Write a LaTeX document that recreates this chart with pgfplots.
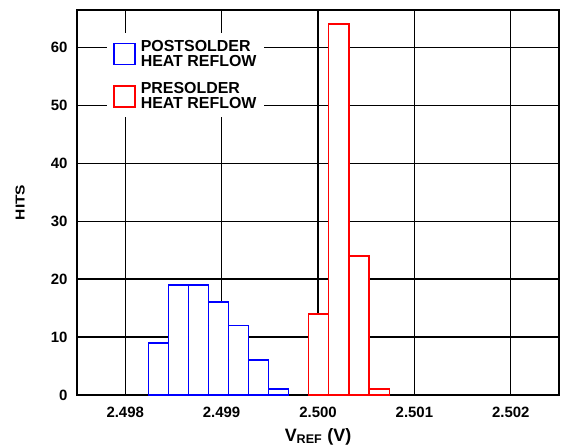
\documentclass[border=0pt]{standalone}
\usepackage{fontspec}
\setmainfont{Liberation Sans}
\usepackage{graphicx}
\usepackage{pgfplots}
\pgfplotsset{compat=1.18}
\begin{document}
\begin{tikzpicture}
\path[use as bounding box] (-77bp,-53bp) rectangle (503bp,395bp);
\begin{axis}[
  at={(0,0)}, anchor=south west,
  scale only axis, width=482bp, height=385bp,
  xmin=2.4975, xmax=2.5025, ymin=0, ymax=66.4,
  xtick={2.498,2.499,2.500,2.501,2.502},
  xticklabels={2.498,2.499,2.500,2.501,2.502},
  ytick={0,10,20,30,40,50,60},
  grid=major, major grid style={black, line width=1.1bp},
  major tick length=0pt,
  axis line style={black, line width=1.5bp},
  tick label style={font=\fontsize{15}{18}\selectfont\bfseries},
  /pgf/number format/assume math mode=true,
  yticklabel style={xshift=-6bp},
  xticklabel style={yshift=-9bp},
  xlabel={V\textsubscript{REF} (V)},
  xlabel style={font=\fontsize{18}{20}\selectfont\bfseries, at={(axis description cs:0.5,0)}, anchor=base, yshift=-46bp},
  ylabel={\scalebox{1.2}[1]{HITS}},
  ylabel style={font=\fontsize{13}{15}\selectfont\bfseries, at={(axis description cs:-0.118,0.5)}, anchor=center, rotate=0},
  clip=false,
  legend style={at={(axis description cs:0.0622,0.940)}, anchor=north west, draw=none, fill=white,
    inner xsep=6bp, inner ysep=5bp, row sep=11bp, column sep=3bp,
    font=\fontsize{16}{15}\selectfont\bfseries, cells={anchor=west, align=left}},
  legend cell align=left,
]
\addplot[ybar interval, draw=blue, fill=white, line width=1.6bp,
  legend image code/.code={\draw[blue, fill=white, line width=1.6bp] (0bp,-10.5bp) rectangle (21bp,10.5bp);}]
  coordinates {(2.49824,9) (2.498448,19) (2.498656,19) (2.498864,16) (2.499072,12) (2.49928,6) (2.499488,1) (2.499696,1)};
\addlegendentry{POSTSOLDER\\HEAT REFLOW}
\addplot[ybar interval, draw=red, fill=white, line width=1.6bp,
  legend image code/.code={\draw[red, fill=white, line width=1.6bp] (0bp,-10.5bp) rectangle (21bp,10.5bp);}]
  coordinates {(2.49990,14) (2.50011,64) (2.50032,24) (2.50053,1) (2.50074,1)};
\addlegendentry{PRESOLDER\\HEAT REFLOW}
\end{axis}
\end{tikzpicture}
\end{document}
